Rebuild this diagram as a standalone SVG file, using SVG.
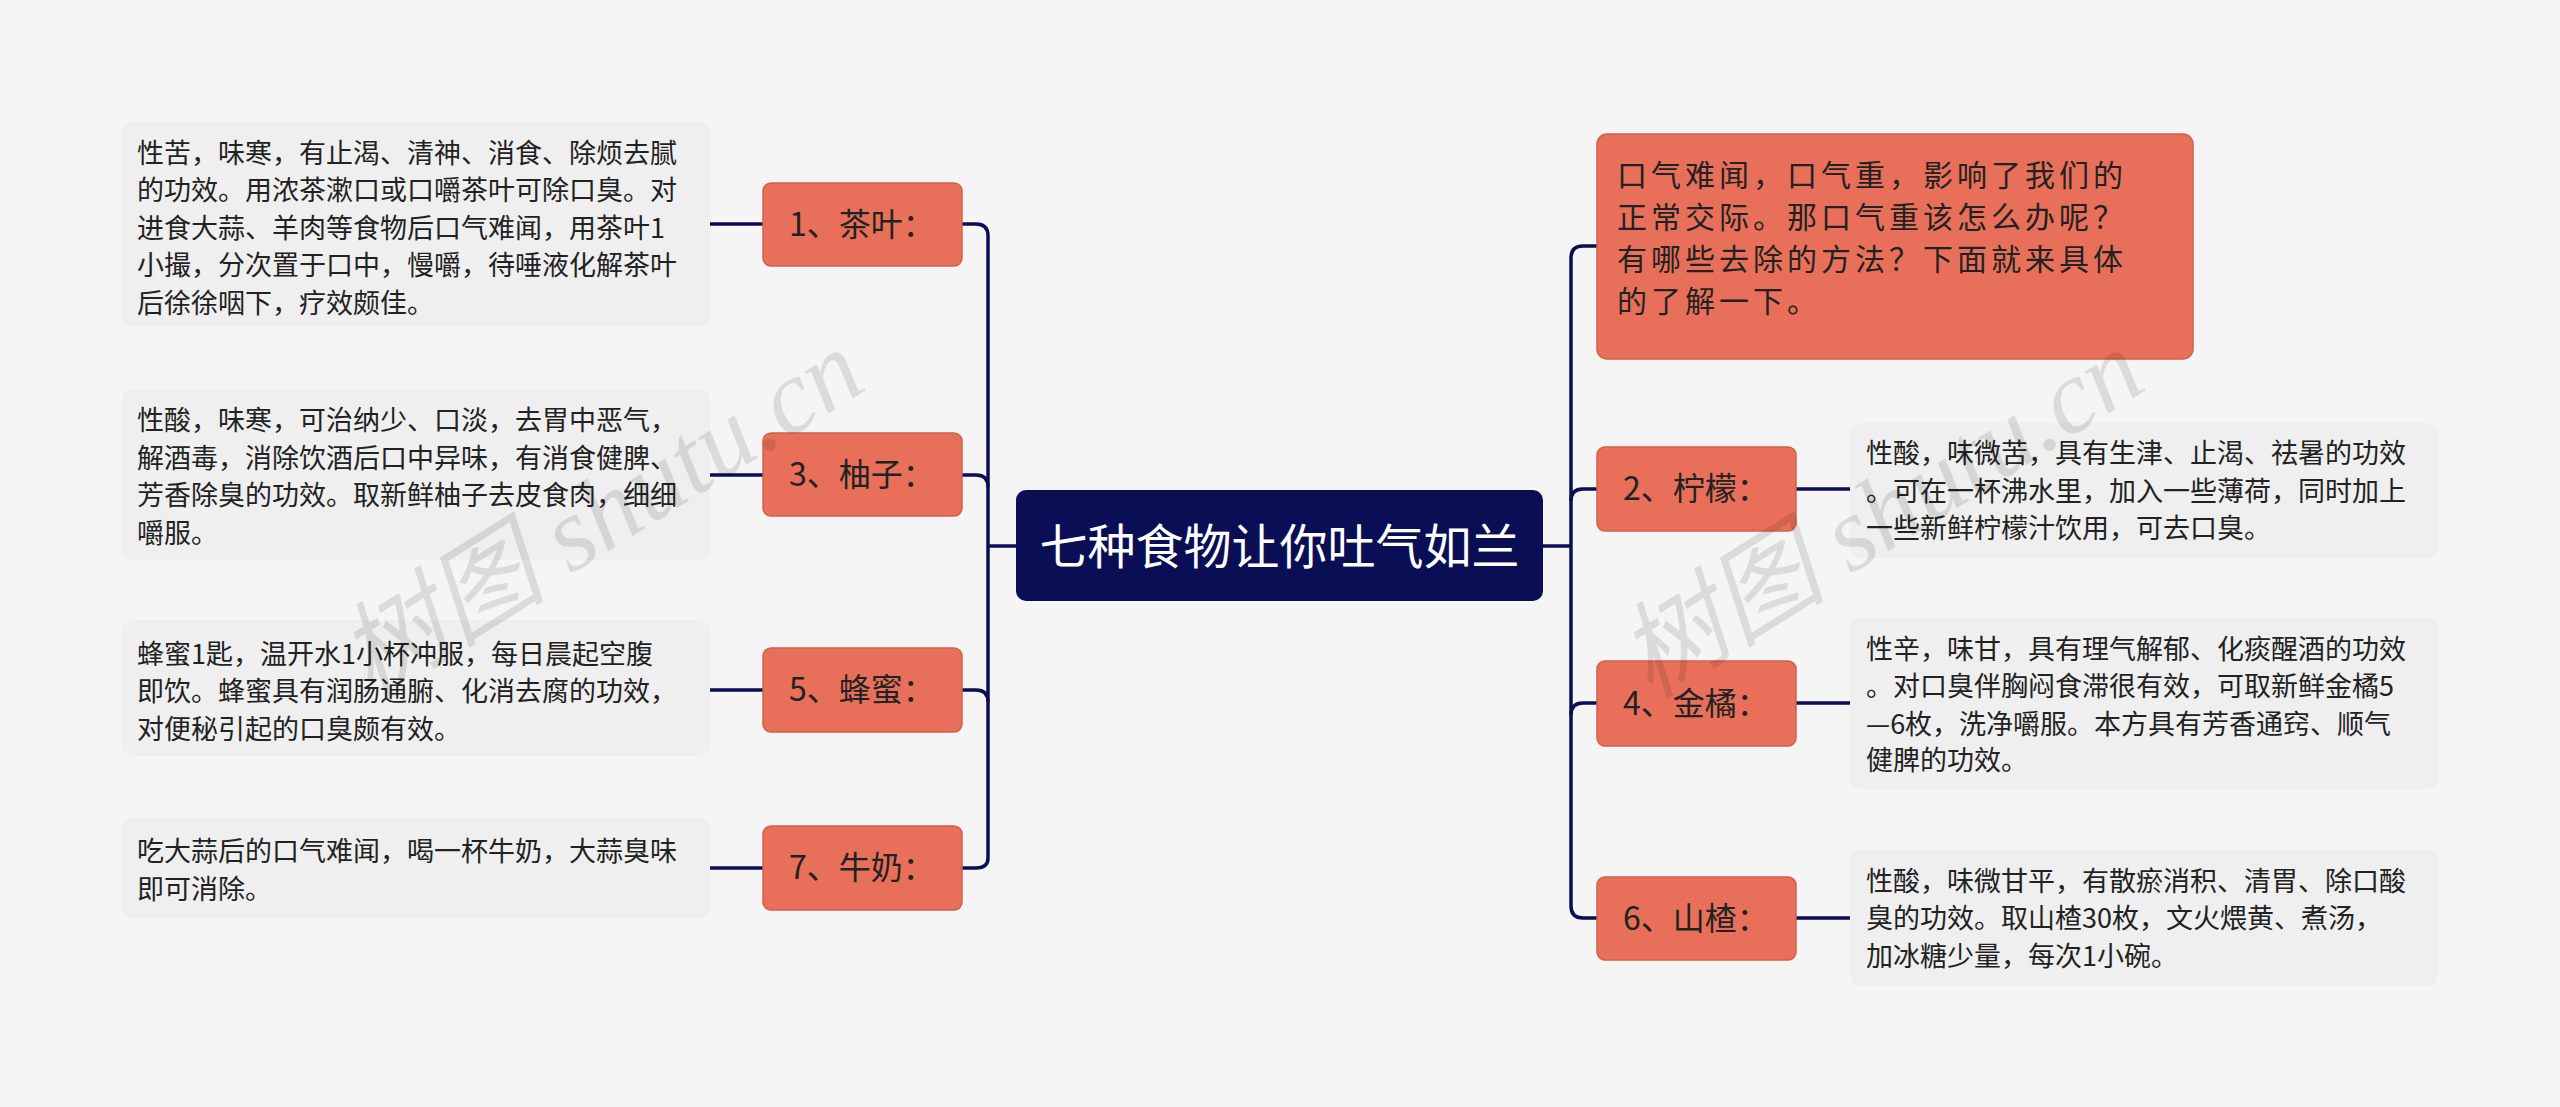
<svg xmlns="http://www.w3.org/2000/svg" width="2560" height="1107" viewBox="0 0 2560 1107">
<style>
text{font-family:"Noto Sans CJK SC","Noto Sans",sans-serif}
.n{fill:#E8705A;stroke:#D35F4A;stroke-width:1.5}
.nl{font-size:32px;fill:#222;text-anchor:middle}
.tb{fill:#EFEFEF}
.t{font-size:27px;fill:#222}
.c{fill:none;stroke:#0A0F55;stroke-width:3.5}
.wm{font-size:105px;fill:#000;opacity:0.1;font-family:"Liberation Serif","Noto Sans CJK SC",serif;font-style:italic}
</style>
<rect width="2560" height="1107" fill="#F5F5F5"/>
<g id="connectors">
<path class="c" d="M962,224 H976 Q988,224 988,236 V858 Q988,868 976,868 H962"/>
<path class="c" d="M962,475 H976 Q988,475 988,487"/>
<path class="c" d="M962,690 H976 Q988,690 988,702"/>
<path class="c" d="M988,546 H1016"/>
<path class="c" d="M710,224 H763 M710,475 H763 M710,690 H763 M710,868 H763"/>
<path class="c" d="M1543,546 H1571"/>
<path class="c" d="M1597,246 H1583 Q1571,246 1571,258 V906 Q1571,918 1583,918 H1597"/>
<path class="c" d="M1597,489 H1583 Q1571,489 1571,501"/>
<path class="c" d="M1597,703 H1583 Q1571,703 1571,715"/>
<path class="c" d="M1796,489 H1850 M1796,703 H1850 M1796,918 H1850"/>
</g>
<g id="center"><rect x="1016" y="490" width="527" height="111" rx="10" fill="#0A0F55"/><text x="1279.5" y="564" font-size="48" fill="#fff" text-anchor="middle">七种食物让你吐气如兰</text></g>
<g id="n1"><rect class="n" x="763" y="183" width="199" height="83" rx="8"/><text class="nl" x="862" y="236">1、茶叶：</text></g>
<g id="n3"><rect class="n" x="763" y="433" width="199" height="83" rx="8"/><text class="nl" x="862" y="486">3、柚子：</text></g>
<g id="n5"><rect class="n" x="763" y="648" width="199" height="84" rx="8"/><text class="nl" x="862" y="701">5、蜂蜜：</text></g>
<g id="n7"><rect class="n" x="763" y="826" width="199" height="84" rx="8"/><text class="nl" x="862" y="879">7、牛奶：</text></g>
<g id="n2"><rect class="n" x="1597" y="447" width="199" height="84" rx="8"/><text class="nl" x="1696" y="500">2、柠檬：</text></g>
<g id="n4"><rect class="n" x="1597" y="661" width="199" height="85" rx="8"/><text class="nl" x="1696" y="715">4、金橘：</text></g>
<g id="n6"><rect class="n" x="1597" y="877" width="199" height="83" rx="8"/><text class="nl" x="1696" y="930">6、山楂：</text></g>
<g id="intro"><rect class="n" x="1597" y="134" width="596" height="225" rx="10"/><text x="1617" font-size="30" letter-spacing="4" fill="#222"><tspan x="1617" y="186">口气难闻，口气重，影响了我们的</tspan><tspan x="1617" y="228">正常交际。那口气重该怎么办呢？</tspan><tspan x="1617" y="270">有哪些去除的方法？下面就来具体</tspan><tspan x="1617" y="312">的了解一下。</tspan></text></g>
<g id="t1"><rect class="tb" x="122" y="122" width="588" height="205" rx="10"/><text class="t"><tspan x="137" y="163">性苦，味寒，有止渴、清神、消食、除烦去腻</tspan><tspan x="137" y="200">的功效。用浓茶漱口或口嚼茶叶可除口臭。对</tspan><tspan x="137" y="238">进食大蒜、羊肉等食物后口气难闻，用茶叶1</tspan><tspan x="137" y="275">小撮，分次置于口中，慢嚼，待唾液化解茶叶</tspan><tspan x="137" y="313">后徐徐咽下，疗效颇佳。</tspan></text></g>
<g id="t3"><rect class="tb" x="122" y="389" width="588" height="171" rx="10"/><text class="t"><tspan x="137" y="430">性酸，味寒，可治纳少、口淡，去胃中恶气，</tspan><tspan x="137" y="468">解酒毒，消除饮酒后口中异味，有消食健脾、</tspan><tspan x="137" y="505">芳香除臭的功效。取新鲜柚子去皮食肉，细细</tspan><tspan x="137" y="543">嚼服。</tspan></text></g>
<g id="t5"><rect class="tb" x="122" y="620" width="588" height="136" rx="10"/><text class="t"><tspan x="137" y="664">蜂蜜1匙，温开水1小杯冲服，每日晨起空腹</tspan><tspan x="137" y="701">即饮。蜂蜜具有润肠通腑、化消去腐的功效，</tspan><tspan x="137" y="739">对便秘引起的口臭颇有效。</tspan></text></g>
<g id="t7"><rect class="tb" x="122" y="818" width="588" height="100" rx="10"/><text class="t"><tspan x="137" y="861">吃大蒜后的口气难闻，喝一杯牛奶，大蒜臭味</tspan><tspan x="137" y="899">即可消除。</tspan></text></g>
<g id="t2"><rect class="tb" x="1850" y="423" width="588" height="135" rx="10"/><text class="t"><tspan x="1866" y="463">性酸，味微苦，具有生津、止渴、祛暑的功效</tspan><tspan x="1866" y="501">。可在一杯沸水里，加入一些薄荷，同时加上</tspan><tspan x="1866" y="538">一些新鲜柠檬汁饮用，可去口臭。</tspan></text></g>
<g id="t4"><rect class="tb" x="1850" y="617" width="588" height="172" rx="10"/><text class="t"><tspan x="1866" y="659">性辛，味甘，具有理气解郁、化痰醒酒的功效</tspan><tspan x="1866" y="696">。对口臭伴胸闷食滞很有效，可取新鲜金橘5</tspan><tspan x="1866" y="734">—6枚，洗净嚼服。本方具有芳香通窍、顺气</tspan><tspan x="1866" y="770">健脾的功效。</tspan></text></g>
<g id="t6"><rect class="tb" x="1850" y="849" width="588" height="137" rx="10"/><text class="t"><tspan x="1866" y="891">性酸，味微甘平，有散瘀消积、清胃、除口酸</tspan><tspan x="1866" y="928">臭的功效。取山楂30枚，文火煨黄、煮汤，</tspan><tspan x="1866" y="966">加冰糖少量，每次1小碗。</tspan></text></g>
<g id="watermarks">
<text class="wm" transform="translate(370,700) rotate(-32)">树图 shutu.cn</text>
<text class="wm" transform="translate(1650,700) rotate(-32)">树图 shutu.cn</text>
</g>
</svg>
